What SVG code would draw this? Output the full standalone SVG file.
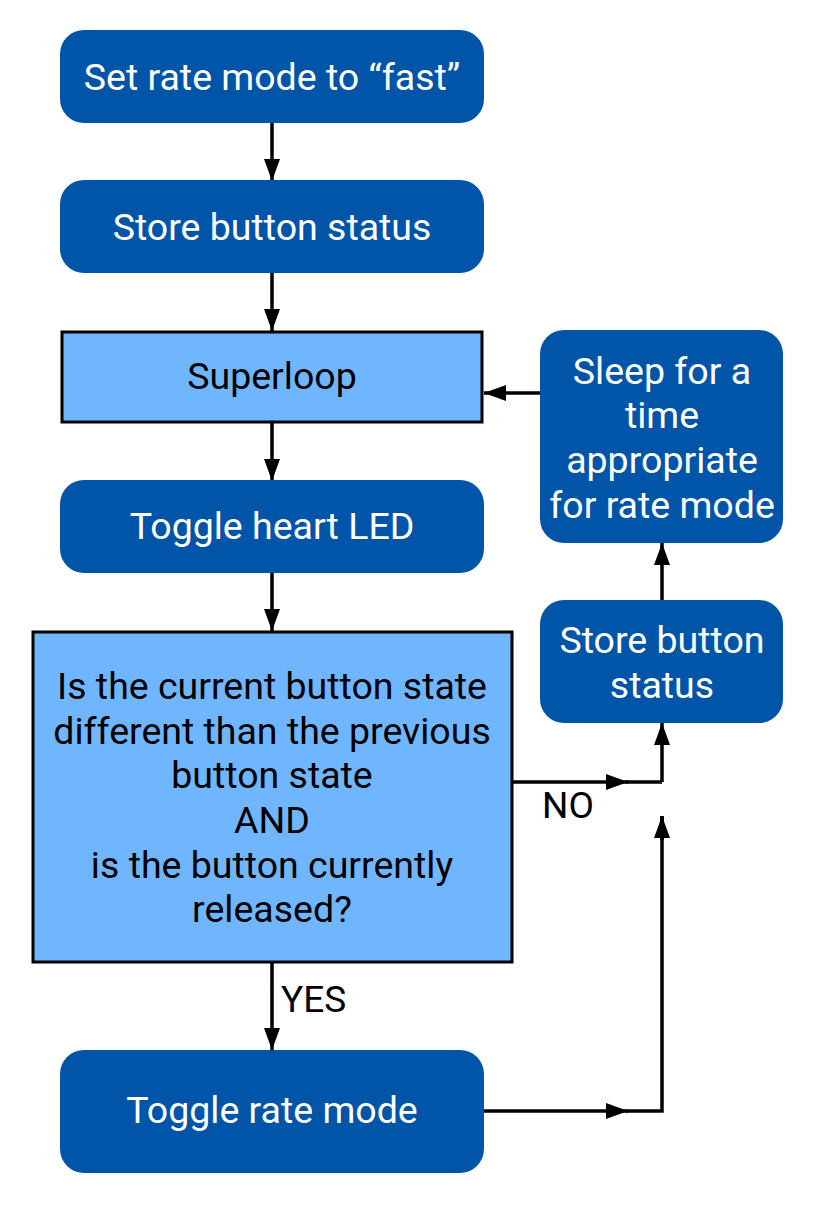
<svg xmlns="http://www.w3.org/2000/svg" width="815" height="1205" viewBox="0 0 815 1205">
<defs>
<marker id="ah" markerUnits="userSpaceOnUse" markerWidth="22" markerHeight="18" refX="22" refY="8" orient="auto">
<path d="M0,0 L22,8 L0,16 Z" fill="#000"/>
</marker>
<style>
.dk{fill:#0055A9;}
.lt{fill:#70B6FF;stroke:#000;stroke-width:3;}
.wt{font-family:Roboto,"Liberation Sans",sans-serif;font-size:37.5px;fill:#fff;text-anchor:middle;}
.bt{font-family:Roboto,"Liberation Sans",sans-serif;font-size:37.5px;fill:#000;text-anchor:middle;}
.lb{font-family:Roboto,"Liberation Sans",sans-serif;font-size:37px;fill:#000;}
.cn{fill:none;stroke:#000;stroke-width:3.5;}
</style>
</defs>
<rect width="815" height="1205" fill="#fff"/>
<g id="connectors">
<path class="cn" d="M272,123 L272,181" marker-end="url(#ah)"/>
<path class="cn" d="M272,273 L272,331" marker-end="url(#ah)"/>
<path class="cn" d="M272,423 L272,481" marker-end="url(#ah)"/>
<path class="cn" d="M272,573 L272,631" marker-end="url(#ah)"/>
<path class="cn" d="M272,963 L272,1050" marker-end="url(#ah)"/>
<path class="cn" d="M540,393 L484,393" marker-end="url(#ah)"/>
<path class="cn" d="M662,600 L662,543" marker-end="url(#ah)"/>
<path class="cn" d="M513,782 L628,782" marker-end="url(#ah)"/>
<path class="cn" d="M626,782 L662,782"/>
<path class="cn" d="M484,1111 L628,1111" marker-end="url(#ah)"/>
<path class="cn" d="M626,1111 L662,1111 L662,816"/>
<path class="cn" d="M662,840 L662,816" marker-end="url(#ah)"/>
<path class="cn" d="M662,782 L662,723" marker-end="url(#ah)"/>
<text class="lb" x="542" y="818">NO</text>
<text class="lb" x="281" y="1012">YES</text>
</g>
<g id="n1"><rect class="dk" x="60" y="30" width="424" height="93" rx="24"/><text class="wt" x="272" y="90">Set rate mode to “fast”</text></g>
<g id="n2"><rect class="dk" x="60" y="180" width="424" height="93" rx="24"/><text class="wt" x="272" y="240">Store button status</text></g>
<g id="n3"><rect class="lt" x="62" y="332" width="420" height="90"/><text class="bt" x="272" y="389">Superloop</text></g>
<g id="n4"><rect class="dk" x="60" y="480" width="424" height="93" rx="24"/><text class="wt" x="272" y="539">Toggle heart LED</text></g>
<g id="n5"><rect class="lt" x="33" y="632" width="479" height="330"/>
<text class="bt" x="272" y="699">Is the current button state</text>
<text class="bt" x="272" y="744">different than the previous</text>
<text class="bt" x="272" y="788">button state</text>
<text class="bt" x="272" y="833">AND</text>
<text class="bt" x="272" y="878">is the button currently</text>
<text class="bt" x="272" y="922">released?</text>
</g>
<g id="n6"><rect class="dk" x="60" y="1050" width="424" height="123" rx="24"/><text class="wt" x="272" y="1123">Toggle rate mode</text></g>
<g id="n7"><rect class="dk" x="540" y="330" width="243" height="213" rx="24"/>
<text class="wt" x="662" y="384">Sleep for a</text>
<text class="wt" x="662" y="428">time</text>
<text class="wt" x="662" y="473">appropriate</text>
<text class="wt" x="662" y="518">for rate mode</text>
</g>
<g id="n8"><rect class="dk" x="540" y="600" width="243" height="123" rx="24"/>
<text class="wt" x="662" y="653">Store button</text>
<text class="wt" x="662" y="698">status</text>
</g>
</svg>
